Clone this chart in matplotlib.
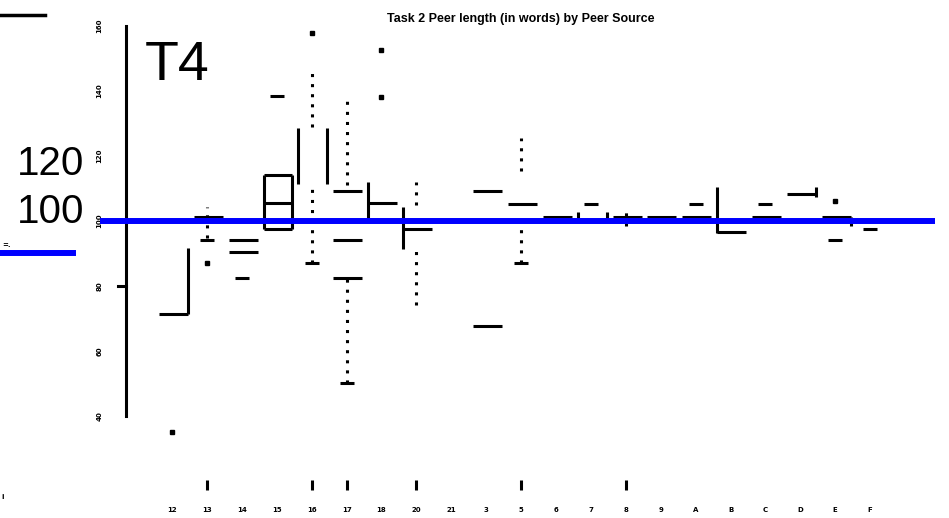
import matplotlib
matplotlib.use("Agg")
import matplotlib.pyplot as plt
from matplotlib.lines import Line2D

# peer sources along the x axis
sources = ["12", "13", "14", "15", "16", "17", "18", "20", "21", "3", "5",
           "6", "7", "8", "9", "A", "B", "C", "D", "E", "F"]
y_ticks = [40, 60, 80, 100, 120, 140, 160]
marked_y_tick = 80
reference_words = 100
ticked_sources = [1, 4, 5, 7, 10, 13]

# what is left of the box plot, values in words: (source index, value)
wide_strokes = [(0, 71.4), (1, 101.2), (2, 94.2), (2, 90.5), (3, 114.2), (3, 105.5),
                (3, 97.5), (5, 109.2), (5, 94.2), (5, 82.5), (6, 105.5), (7, 97.5),
                (9, 109.2), (9, 67.7), (10, 105.2), (11, 101.2), (13, 101.2),
                (14, 101.2), (15, 101.2), (16, 96.6), (17, 101.2), (18, 108.3),
                (19, 101.2)]
short_strokes = [(1, 94.2), (2, 82.5), (3, 138.5), (4, 87.1), (5, 50.2), (10, 87.1),
                 (12, 105.2), (15, 105.2), (17, 105.2), (19, 94.2), (20, 97.5)]
# box sides: (source index, low, high)
left_sides = [(3, 97.5, 114.2), (4, 111.4, 128.6), (6, 100.3, 112.0),
              (7, 91.4, 104.3), (12, 100.6, 102.8), (16, 96.3, 110.5)]
right_sides = [(0, 71.4, 91.7), (3, 97.5, 114.2), (4, 111.4, 128.6),
               (12, 100.6, 102.8), (18, 107.4, 110.5), (19, 98.5, 101.2)]
whiskers = [(1, 94.8, 104.3), (4, 128.9, 147.4), (4, 87.1, 109.8), (5, 111.0, 137.2),
            (5, 50.2, 82.5), (7, 104.9, 112.0), (7, 74.2, 90.8), (10, 115.4, 125.5),
            (10, 87.1, 97.8), (13, 98.5, 104.6)]
outliers = [(0, 35.1), (1, 87.1), (4, 157.8), (6, 152.6), (6, 138.2), (19, 106.2)]

BOX_L, BOX_R, CAP = -0.38, 0.45, 0.2
AXIS_X = -1.32
LW = 2.2

fig = plt.figure(figsize=(9.49, 5.18), dpi=100)
ax = fig.add_axes([0, 0, 1, 1])
ax.set_xlim(-4.93, 22.26)
ax.set_ylim(8.6, 168.0)

for s in ["top", "right", "bottom"]:
    ax.spines[s].set_visible(False)
ax.spines["left"].set_position(("data", AXIS_X))
ax.spines["left"].set_bounds(40, 160)
ax.spines["left"].set_linewidth(LW)
ax.set_xticks([])
ax.set_yticks(y_ticks)
ax.tick_params(axis="y", length=0, pad=17, labelsize=5, labelrotation=90)
for lab in ax.get_yticklabels():
    lab.set_fontweight("bold")
    lab.set_va("center")
ax.plot([AXIS_X - 0.23, AXIS_X], [marked_y_tick] * 2, color="black", lw=LW)


def seg(xs, ys, **extra):
    ax.plot(xs, ys, color="black", lw=LW, solid_capstyle="butt", **extra)


for i, v in wide_strokes:
    seg([i + BOX_L, i + BOX_R], [v, v])
for i, v in short_strokes:
    seg([i - CAP, i + CAP], [v, v])
for i, lo, hi in left_sides:
    seg([i + BOX_L, i + BOX_L], [lo, hi])
for i, lo, hi in right_sides:
    seg([i + BOX_R, i + BOX_R], [lo, hi])
for i, lo, hi in whiskers:
    seg([i, i], [lo, hi], linestyle=(0, (1, 2.3)), dash_capstyle="butt")
ax.plot([o[0] for o in outliers], [o[1] for o in outliers], "s", color="black",
        markersize=2.5, linestyle="none")

ax.vlines(ticked_sources, 17.2, 20.3, color="black", lw=LW)
for i, name in enumerate(sources):
    ax.text(i, 11.1, name, ha="center", va="center", fontsize=5, fontweight="bold")

ax.hlines(reference_words, -2.06, 21.86, color="#0000ff", lw=4.3, zorder=5)

# loose marks at the left edge
fig.add_artist(Line2D([0, 45 / 949], [1 - 15 / 518] * 2, color="black", lw=2.5))
fig.add_artist(Line2D([0, 73 / 949], [1 - 253 / 518] * 2, color="#0000ff", lw=4.3))
fig.text(0.002, 1 - 245 / 518, "=.", fontsize=5, fontweight="bold", va="center")
fig.text(0.001, 1 - 497 / 518, "i", fontsize=5, fontweight="bold", va="center")

big = dict(family="Liberation Sans", color="black")
fig.text(145 / 949, 1 - 80 / 518, "T4", fontsize=40, va="baseline", ha="left", **big)
fig.text(51 / 949, 1 - 175 / 518, "120", fontsize=29, va="baseline", ha="center", **big)
fig.text(51 / 949, 1 - 223 / 518, "100", fontsize=29, va="baseline", ha="center", **big)
fig.text(521 / 949, 1 - 22 / 518, "Task 2 Peer length (in words) by Peer Source",
         fontsize=9, fontweight="bold", ha="center", va="baseline",
         family="Liberation Sans")

fig.savefig("out.png", dpi=100)
